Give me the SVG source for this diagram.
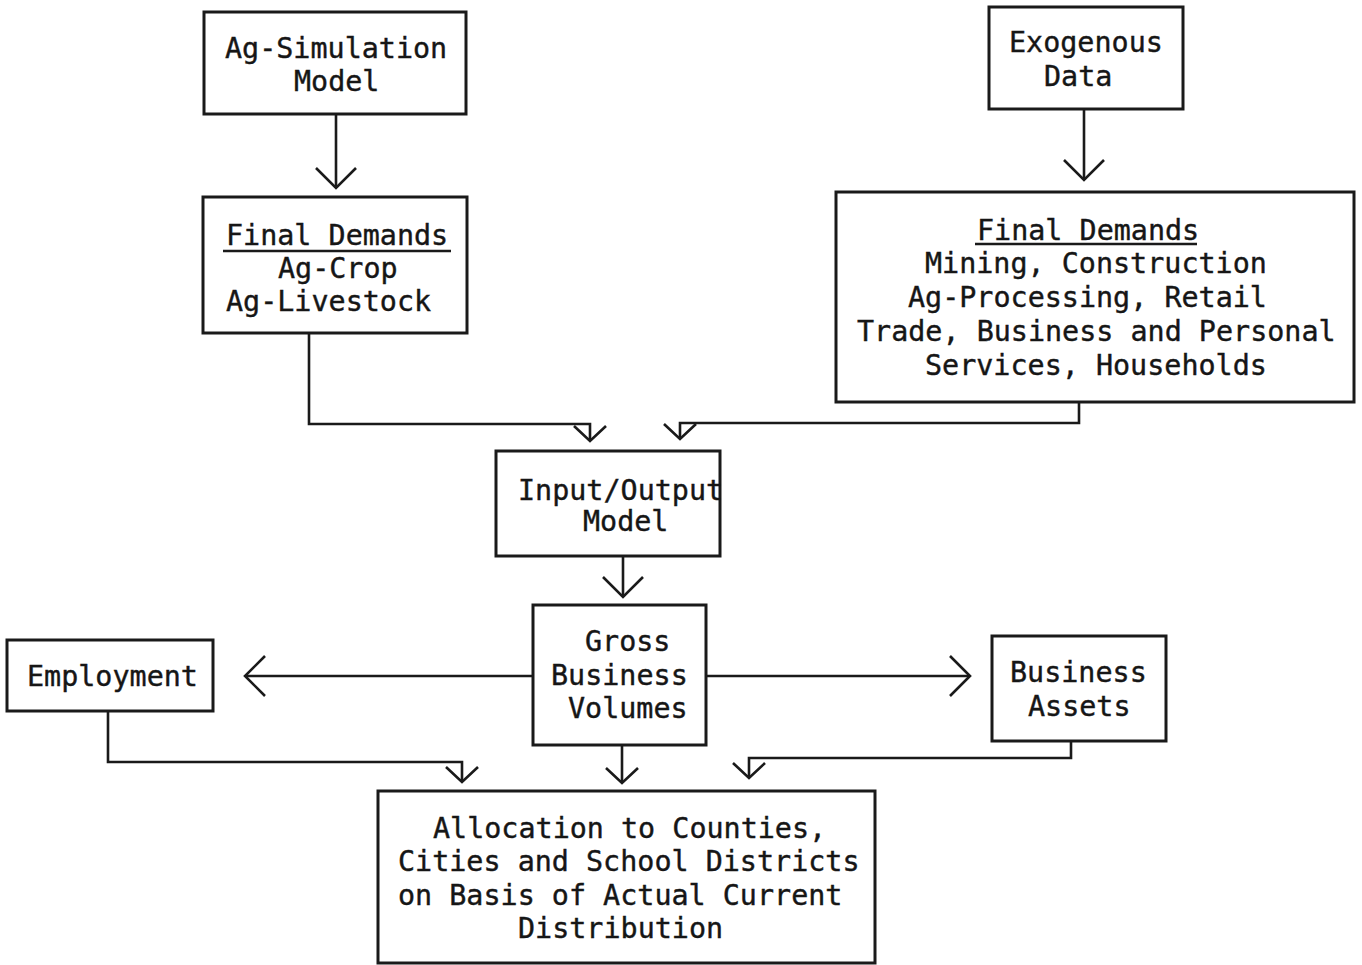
<svg xmlns="http://www.w3.org/2000/svg" width="1362" height="965" viewBox="0 0 1362 965">
<style>
.box{fill:none;stroke:#1a1a1a;stroke-width:3}
.t{font-family:"DejaVu Sans Mono","Liberation Mono",monospace;font-size:28.4px;fill:#161616;stroke:#161616;stroke-width:0.4}
.ln{fill:none;stroke:#1a1a1a;stroke-width:2.6}
.ul{stroke:#1a1a1a;stroke-width:2.6}
</style>
<defs>
<marker id="ch" markerUnits="userSpaceOnUse" viewBox="-22 -22 24 44" refX="0" refY="0" markerWidth="24" markerHeight="44" orient="auto">
<path d="M-20,-20 L0,0 L-20,20" fill="none" stroke="#1a1a1a" stroke-width="2.6"/>
</marker>
<marker id="cs" markerUnits="userSpaceOnUse" viewBox="-18 -18 20 36" refX="0" refY="0" markerWidth="20" markerHeight="36" orient="auto">
<path d="M-15,-16 L0,0 L-15,16" fill="none" stroke="#1a1a1a" stroke-width="2.6"/>
</marker>
</defs>
<rect width="1362" height="965" fill="#fff"/>
<g id="connectors">
<path class="ln" d="M336,114 V188" marker-end="url(#ch)"/>
<path class="ln" d="M1084,109 V180" marker-end="url(#ch)"/>
<path class="ln" d="M309,333 V424 H590 V441" marker-end="url(#cs)"/>
<path class="ln" d="M1079,402 V423 H680 V439" marker-end="url(#cs)"/>
<path class="ln" d="M623,556 V597" marker-end="url(#ch)"/>
<path class="ln" d="M533,676 H245" marker-end="url(#ch)"/>
<path class="ln" d="M706,676 H970" marker-end="url(#ch)"/>
<path class="ln" d="M108,711 V762 H462 V782" marker-end="url(#cs)"/>
<path class="ln" d="M622,745 V783" marker-end="url(#cs)"/>
<path class="ln" d="M1071,741 V758 H749 V778" marker-end="url(#cs)"/>
</g>
<g id="ag-simulation">
<rect class="box" x="204" y="12" width="262" height="102"/>
<text class="t" x="225" y="58">Ag-Simulation</text>
<text class="t" x="294" y="91">Model</text>
</g>
<g id="final-demands-ag">
<rect class="box" x="203" y="197" width="264" height="136"/>
<text class="t" x="226" y="245">Final Demands</text>
<line class="ul" x1="223" y1="251" x2="451" y2="251"/>
<text class="t" x="278" y="278">Ag-Crop</text>
<text class="t" x="226" y="311">Ag-Livestock</text>
</g>
<g id="exogenous">
<rect class="box" x="989" y="7" width="194" height="102"/>
<text class="t" x="1009" y="52">Exogenous</text>
<text class="t" x="1044" y="86">Data</text>
</g>
<g id="final-demands-other">
<rect class="box" x="836" y="192" width="518" height="210"/>
<text class="t" x="977" y="240">Final Demands</text>
<line class="ul" x1="975" y1="244" x2="1197" y2="244"/>
<text class="t" x="925" y="273">Mining, Construction</text>
<text class="t" x="908" y="307">Ag-Processing, Retail</text>
<text class="t" x="857" y="341">Trade, Business and Personal</text>
<text class="t" x="925" y="375">Services, Households</text>
</g>
<g id="input-output">
<rect class="box" x="496" y="451" width="224" height="105"/>
<text class="t" x="518" y="500">Input/Output</text>
<text class="t" x="583" y="531">Model</text>
</g>
<g id="gross-business">
<rect class="box" x="533" y="605" width="173" height="140"/>
<text class="t" x="585" y="651">Gross</text>
<text class="t" x="551" y="685">Business</text>
<text class="t" x="568" y="718">Volumes</text>
</g>
<g id="employment">
<rect class="box" x="7" y="640" width="206" height="71"/>
<text class="t" x="27" y="686">Employment</text>
</g>
<g id="business-assets">
<rect class="box" x="992" y="636" width="174" height="105"/>
<text class="t" x="1010" y="682">Business</text>
<text class="t" x="1028" y="716">Assets</text>
</g>
<g id="allocation">
<rect class="box" x="378" y="791" width="497" height="172"/>
<text class="t" x="433" y="838">Allocation to Counties,</text>
<text class="t" x="398" y="871">Cities and School Districts</text>
<text class="t" x="398" y="905">on Basis of Actual Current</text>
<text class="t" x="518" y="938">Distribution</text>
</g>
</svg>
